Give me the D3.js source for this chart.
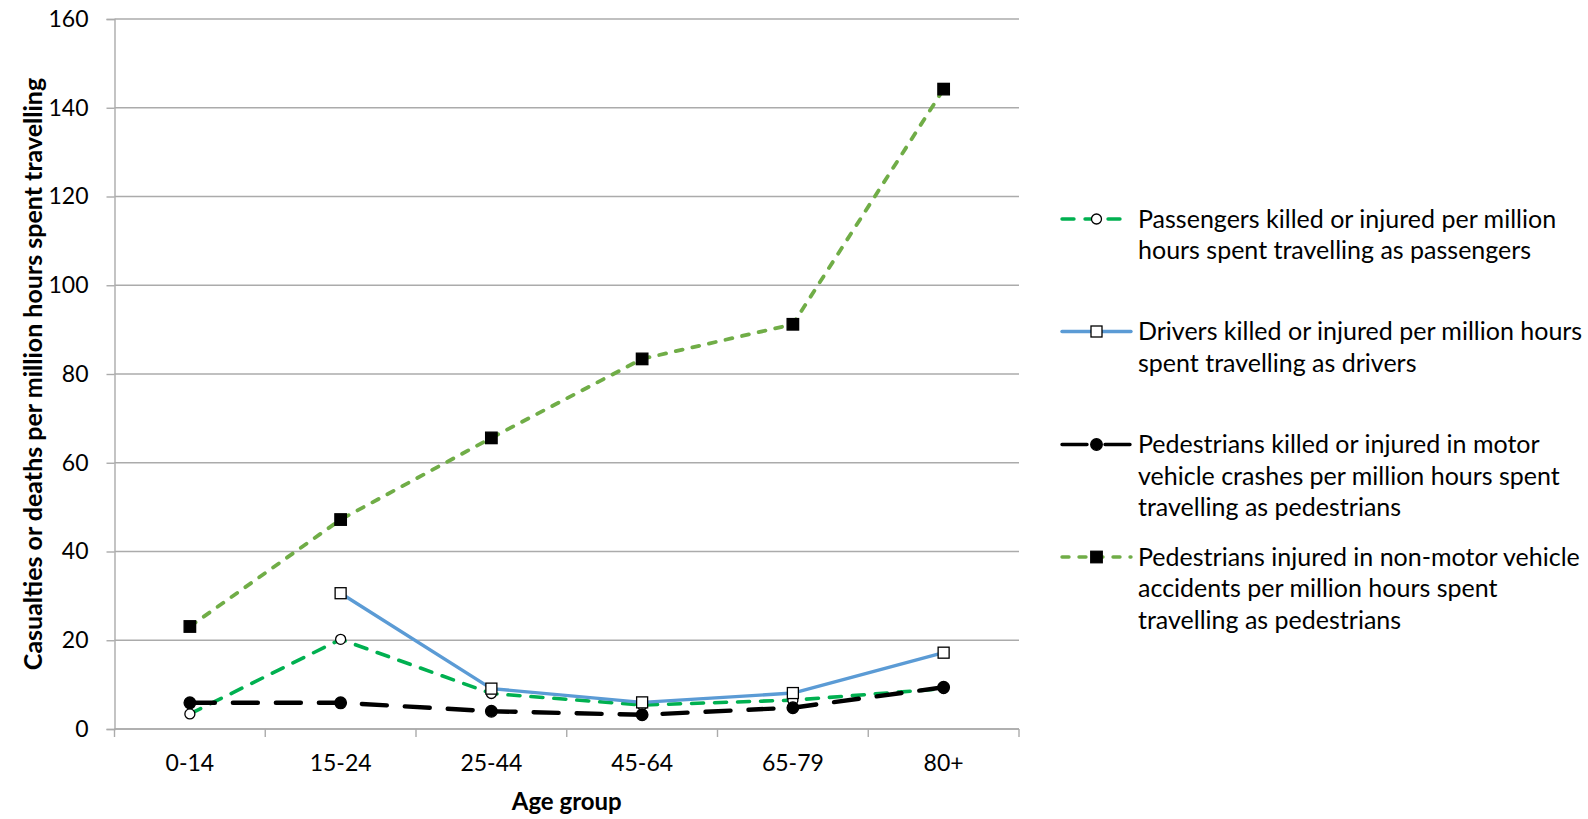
<!DOCTYPE html>
<html>
<head>
<meta charset="utf-8">
<script src="https://cdn.jsdelivr.net/npm/d3@7"></script>
<style>
  html, body { margin: 0; padding: 0; background: #fff; }
  svg { display: block; font-family: Lato, "Open Sans", sans-serif; }
</style>
</head>
<body>
<svg id="chart" width="1588" height="819"></svg>
<script>
// Age groups on the x axis
const ageGroups = ["0-14", "15-24", "25-44", "45-64", "65-79", "80+"];

// Rates per million hours spent travelling
const passengers  = [3.4, 20.2, 8.0, 5.4, 6.5, 9.1];
const drivers     = [null, 30.6, 9.1, 6.0, 8.1, 17.2];
const pedMotor    = [5.9, 5.9, 4.0, 3.2, 4.8, 9.4];
const pedNonMotor = [23.1, 47.2, 65.6, 83.4, 91.2, 144.2];

// Y axis ticks
const yTicks = [0, 20, 40, 60, 80, 100, 120, 140, 160];

// Legend wording, one entry per line of text
const legendLabels = [
  ["Passengers killed or injured per million", "hours spent travelling as passengers"],
  ["Drivers killed or injured per million hours", "spent travelling as drivers"],
  ["Pedestrians killed or injured in motor", "vehicle crashes per million hours spent", "travelling as pedestrians"],
  ["Pedestrians injured in non-motor vehicle", "accidents per million hours spent", "travelling as pedestrians"]
];

const series = [
  { values: passengers,  color: "#00b050", width: 3.6, dash: "12,11", cap: "round", marker: "circle", fill: "#fff", size: 5 },
  { values: drivers,     color: "#5b9bd5", width: 3.4, dash: null,    cap: "round", marker: "square", fill: "#fff", size: 11 },
  { values: pedMotor,    color: "#000000", width: 4.4, dash: "25,18", cap: "round", marker: "circle", fill: "#000", size: 5.8 },
  { values: pedNonMotor, color: "#70ad47", width: 3.8, dash: "7,10",  cap: "round", marker: "square", fill: "#000", size: 11.5 }
];

const svg = d3.select("#chart");
const plot = { left: 114.5, right: 1019, top: 19, bottom: 729 };
const gridColor = "#ababab";
const tickFont = 23;
const legendFont = 25;

const x = d3.scaleBand().domain(ageGroups).range([plot.left, plot.right]);
const y = d3.scaleLinear().domain([0, 160]).range([plot.bottom, plot.top]);

// Horizontal gridlines
svg.append("g").selectAll("line").data(yTicks).join("line")
  .attr("x1", plot.left).attr("x2", plot.right)
  .attr("y1", d => y(d)).attr("y2", d => y(d))
  .attr("stroke", gridColor).attr("stroke-width", 1.4);

// Y axis
const yAxis = svg.append("g")
  .attr("transform", `translate(${plot.left},0)`)
  .call(d3.axisLeft(y).tickValues(yTicks).tickSize(8).tickPadding(18));
yAxis.select(".domain").attr("stroke", gridColor).attr("stroke-width", 1.4);
yAxis.selectAll(".tick line").attr("stroke", gridColor).attr("stroke-width", 1.4);
yAxis.selectAll(".tick text")
  .attr("font-family", "Lato, sans-serif").attr("font-size", tickFont).attr("fill", "#000");

// X axis: ticks sit on the boundaries between age groups
const xAxis = svg.append("g")
  .attr("transform", `translate(0,${plot.bottom})`)
  .call(d3.axisBottom(x).tickSize(0).tickPadding(26));
xAxis.select(".domain").remove();
xAxis.selectAll(".tick text")
  .attr("font-family", "Lato, sans-serif").attr("font-size", tickFont).attr("fill", "#000");
const boundaries = ageGroups.map(g => x(g)).concat([x(ageGroups[ageGroups.length - 1]) + x.bandwidth()]);
svg.append("g").selectAll("line").data(boundaries).join("line")
  .attr("x1", d => d).attr("x2", d => d)
  .attr("y1", plot.bottom).attr("y2", plot.bottom + 8)
  .attr("stroke", gridColor).attr("stroke-width", 1.4);
svg.append("line")
  .attr("x1", plot.left).attr("x2", plot.right)
  .attr("y1", plot.bottom).attr("y2", plot.bottom)
  .attr("stroke", gridColor).attr("stroke-width", 1.4);

// Axis titles
svg.append("text")
  .attr("x", (plot.left + plot.right) / 2).attr("y", 810)
  .attr("text-anchor", "middle")
  .attr("font-weight", "bold").attr("font-size", 24)
  .text("Age group");
svg.append("text")
  .attr("transform", `translate(42,${(plot.top + plot.bottom) / 2}) rotate(-90)`)
  .attr("text-anchor", "middle")
  .attr("font-weight", "bold").attr("font-size", 25)
  .text("Casualties or deaths per million hours spent travelling");

// Marker drawing helper
function drawMarker(g, s, cx, cy) {
  if (s.marker === "circle") {
    g.append("circle").attr("cx", cx).attr("cy", cy).attr("r", s.size)
      .attr("fill", s.fill).attr("stroke", "#000").attr("stroke-width", 1.3);
  } else {
    g.append("rect")
      .attr("x", cx - s.size / 2).attr("y", cy - s.size / 2)
      .attr("width", s.size).attr("height", s.size)
      .attr("fill", s.fill).attr("stroke", "#000").attr("stroke-width", 1.3);
  }
}

// Series lines and markers
const line = d3.line()
  .defined(d => d.v !== null)
  .x(d => x(d.g) + x.bandwidth() / 2)
  .y(d => y(d.v));

series.forEach(s => {
  const pts = ageGroups.map((g, i) => ({ g, v: s.values[i] }));
  const g = svg.append("g");
  g.append("path")
    .datum(pts)
    .attr("d", line)
    .attr("fill", "none")
    .attr("stroke", s.color)
    .attr("stroke-width", s.width)
    .attr("stroke-linecap", s.cap)
    .attr("stroke-linejoin", "round")
    .attr("stroke-dasharray", s.dash);
  pts.filter(d => d.v !== null).forEach(d => drawMarker(g, s, x(d.g) + x.bandwidth() / 2, y(d.v)));
});

// Legend
const legendRowsY = [219, 331.5, 444.5, 557];
const legend = svg.append("g");
series.forEach((s, i) => {
  const ly = legendRowsY[i];
  const row = legend.append("g");
  row.append("line")
    .attr("x1", 1062).attr("x2", 1131)
    .attr("y1", ly).attr("y2", ly)
    .attr("stroke", s.color).attr("stroke-width", Math.min(s.width, 3.4))
    .attr("stroke-linecap", s.cap)
    .attr("stroke-dasharray", s.dash);
  drawMarker(row, s, 1096.5, ly);
  const t = row.append("text")
    .attr("x", 1138).attr("y", ly)
    .attr("font-size", legendFont)
    .attr("fill", "#000");
  legendLabels[i].forEach((txt, j) => {
    t.append("tspan").attr("x", 1138).attr("y", ly + j * 31.4).attr("dy", "0.35em").text(txt);
  });
});
</script>
</body>
</html>
